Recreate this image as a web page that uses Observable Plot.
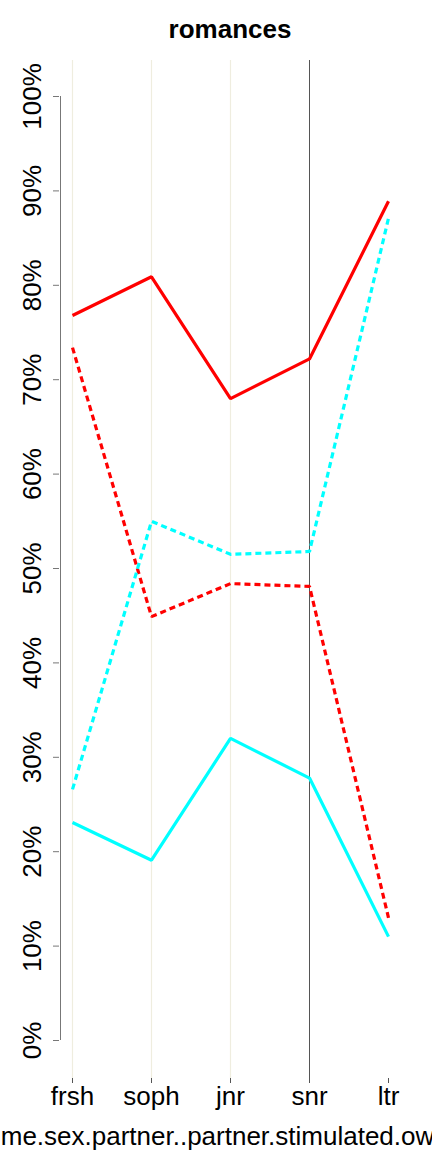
<!DOCTYPE html>
<html>
<head>
<meta charset="utf-8">
<script src="https://cdn.jsdelivr.net/npm/d3@7"></script>
<script src="https://cdn.jsdelivr.net/npm/@observablehq/plot@0.6"></script>
<style>
  html, body { margin: 0; padding: 0; background: #fff; }
  body { width: 432px; height: 1152px; overflow: hidden; font-family: "Liberation Sans", Arial, Helvetica, sans-serif; }
  #title { height: 60px; position: relative; }
  #title span { position: absolute; left: 230px; top: 14px; transform: translateX(-50%); font-weight: bold; font-size: 26px; white-space: nowrap; }
  #chart svg { display: block; overflow: visible; }
</style>
</head>
<body>
<div id="title"><span>romances</span></div>
<div id="chart"></div>
<script>
const years = ["frsh", "soph", "jnr", "snr", "ltr"];
const redSolid   = [0.768, 0.809, 0.680, 0.722, 0.889];
const redDotted  = [0.734, 0.449, 0.484, 0.481, 0.130];
const cyanSolid  = [0.231, 0.191, 0.320, 0.278, 0.110];
const cyanDotted = [0.266, 0.550, 0.515, 0.518, 0.871];
const yTicks = [0, 0.1, 0.2, 0.3, 0.4, 0.5, 0.6, 0.7, 0.8, 0.9, 1.0];
const lightGrid = ["frsh", "soph", "jnr"];
const darkGrid = ["snr"];
const xLabel = "me.sex.partner..partner.stimulated.ow";

const toRows = (vals) => years.map((y, i) => ({year: y, value: vals[i]}));

const series = [
  {data: toRows(redSolid), color: "#FF0000", dash: null},
  {data: toRows(redDotted), color: "#FF0000", dash: "6,4"},
  {data: toRows(cyanSolid), color: "#00FFFF", dash: null},
  {data: toRows(cyanDotted), color: "#00FFFF", dash: "6,4"}
];

const chart = Plot.plot({
  width: 432,
  height: 1092,
  marginTop: 0,
  marginBottom: 74,
  marginLeft: 59,
  marginRight: 43,
  insetLeft: 12,
  insetTop: 36,
  insetBottom: 38,
  style: {fontFamily: "'Liberation Sans', Arial, Helvetica, sans-serif", fontSize: "26px", color: "#000", background: "#fff"},
  x: {type: "point", domain: years, padding: 0},
  y: {domain: [0, 1]},
  marks: [
    Plot.ruleX(lightGrid, {stroke: "#EFEDDF", strokeWidth: 1.2}),
    Plot.ruleX(darkGrid, {stroke: "#555", strokeWidth: 1}),
    Plot.ruleX([years[0]], {y1: 0, y2: 1, dx: -12, stroke: "#777", strokeWidth: 1}),
    Plot.ruleY([0], {x1: years[0], x2: years[years.length - 1], dy: 38, stroke: "#555", strokeWidth: 1}),
    Plot.axisY({anchor: "left", ticks: yTicks, tickFormat: d3.format(".0%"), tickSize: 6, tickPadding: 13, tickRotate: -90, stroke: "#777", fontSize: 26, label: null}),
    Plot.axisX({anchor: "bottom", tickSize: 5, tickPadding: 3, fontSize: 26, label: null, stroke: "#555"}),
    ...series.map(s => Plot.line(s.data, {x: "year", y: "value", stroke: s.color, strokeWidth: 3.2, strokeDasharray: s.dash, strokeLinecap: "butt", strokeLinejoin: "miter"})),
    Plot.text([xLabel], {frameAnchor: "bottom", dx: -7, dy: 66, lineAnchor: "bottom", fontSize: 26, fill: "#000", text: d => d})
  ]
});
document.getElementById("chart").appendChild(chart);
</script>
</body>
</html>
